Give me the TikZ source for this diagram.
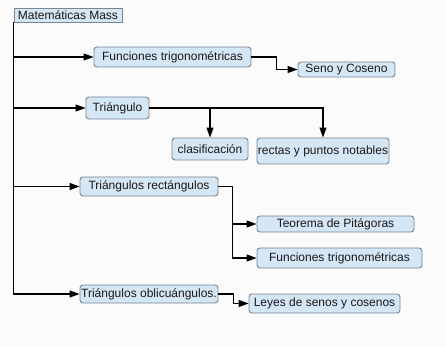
\documentclass[tikz,border=0pt]{standalone}
\usepackage{fontspec}
\setmainfont{Liberation Sans}
\usetikzlibrary{arrows.meta}
\definecolor{boxfill}{HTML}{D5E6F5}
\definecolor{boxline}{HTML}{7A8590}
\definecolor{bg}{HTML}{FBFBFB}
\tikzset{
  box/.style={draw=boxline, fill=boxfill, line width=0.9pt, rounded corners=3pt, inner sep=0pt,
    font=\fontsize{12}{14}\selectfont, text=black!90},
  rootbox/.style={box, rounded corners=0pt},
  conn/.style={line width=1.1pt, draw=black},
  arr/.style={conn, -{Triangle[length=10pt,width=7pt]}},
}
\begin{document}
\begin{tikzpicture}[x=1pt,y=-1pt]
\fill[bg] (0,0) rectangle (446,347);
\useasboundingbox (0,0) rectangle (446,347);
\node[rootbox, minimum width=108pt, minimum height=14pt] (root) at (68,15) {Matemáticas Mass};
\node[box, minimum width=157pt, minimum height=20pt] (ft1) at (172.5,57) {Funciones trigonométricas};
\node[box, minimum width=97pt, minimum height=15pt] (seno) at (346.5,69.5) {Seno y Coseno};
\node[box, minimum width=63pt, minimum height=22pt] (tri) at (117.5,108) {Triángulo};
\node[box, minimum width=76pt, minimum height=22pt] (clas) at (210,149) {clasificación};
\node[box, minimum width=132pt, minimum height=26pt] (rect) at (323,151) {rectas y puntos notables};
\node[box, minimum width=138pt, minimum height=19pt] (trirect) at (149,186.5) {Triángulos rectángulos};
\node[box, minimum width=157pt, minimum height=16pt] (teo) at (335.5,224) {Teorema de Pitágoras};
\node[box, minimum width=165pt, minimum height=20pt] (ft2) at (339.5,258) {Funciones trigonométricas};
\node[box, minimum width=138pt, minimum height=18pt] (obli) at (149,294) {Triángulos oblicuángulos.};
\node[box, minimum width=151pt, minimum height=19pt] (leyes) at (324.5,303.5) {Leyes de senos y cosenos};
% trunk
\draw[arr] (root.south west) |- (obli.west);
\draw[arr] (root.south west |- ft1.west) -- (ft1.west);
\draw[arr] (root.south west |- tri.west) -- (tri.west);
\draw[arr] (root.south west |- trirect.west) -- (trirect.west);
% sub-branches
\draw[arr] (ft1.east) -- ++(25,0) |- (seno.west);
\draw[arr] (tri.east) -| (rect.north);
\draw[arr] (clas.north |- tri.east) -- (clas.north);
\draw[arr] (trirect.east) -- ++(14,0) coordinate (b) |- (ft2.west);
\draw[arr] (b |- teo.west) -- (teo.west);
\draw[arr] (obli.east) -- ++(15,0) |- (leyes.west);
\end{tikzpicture}
\end{document}
